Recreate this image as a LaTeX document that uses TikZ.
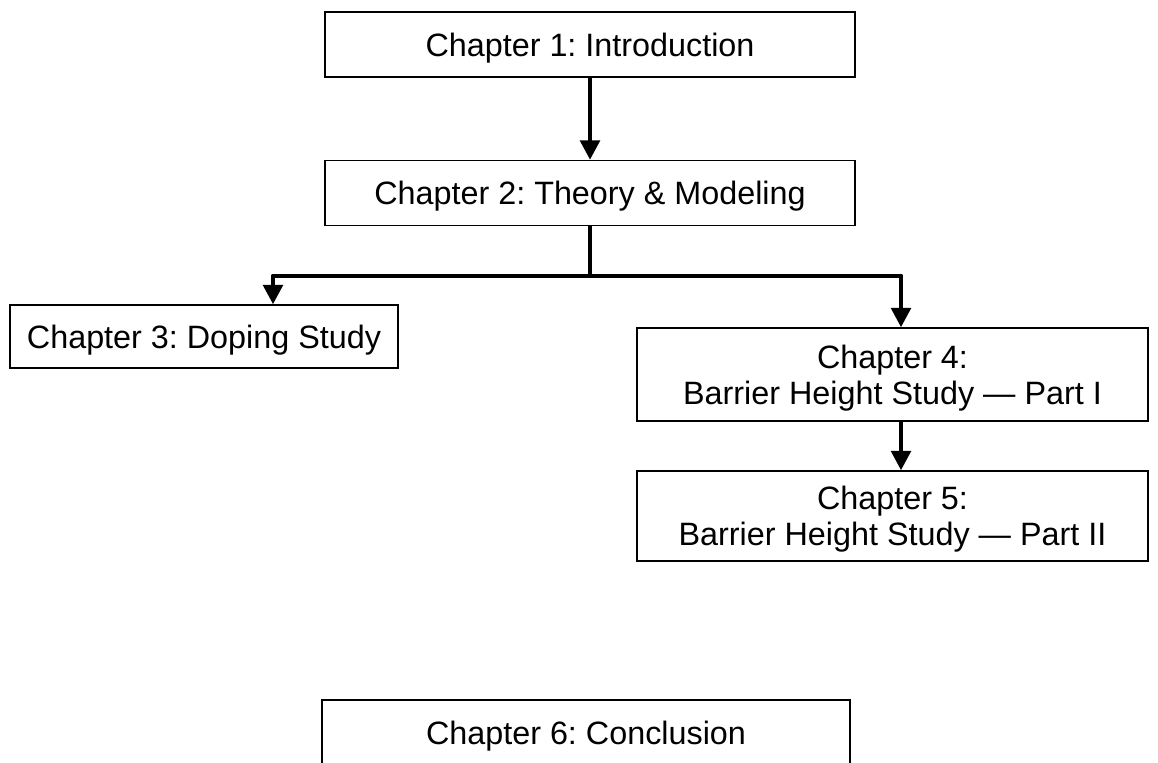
\documentclass[tikz,border=0pt]{standalone}
\usepackage{fontspec}
\setmainfont{Liberation Sans}
\frenchspacing
\usetikzlibrary{arrows.meta, positioning}
\tikzstyle{chapter} = [rectangle, minimum width=10.6cm, minimum height=1.3cm, text centered, align=center, text depth=0pt, draw=black, line width=0.8pt, font=\fontsize{18.4}{20.5}\selectfont]
\tikzstyle{arrow} = [line width=2.4pt, -{Triangle[width=11pt,length=11pt]}]
\tikzstyle{branch} = [line width=2.8pt]

\begin{document}
\begin{tikzpicture}
        \useasboundingbox (0,0) rectangle (23.16,-15.24);
        \node (intro) [chapter] at (11.8,-0.89) {Chapter 1: Introduction};
        \node (theory) [chapter] at (11.8,-3.86) {Chapter 2: Theory \& Modeling};
        \node (doping) [chapter, minimum width=7.76cm, minimum height=1.26cm] at (4.08,-6.73) {Chapter 3: Doping Study};
        \node (barrier-one) [chapter, minimum width=10.22cm, minimum height=1.86cm] at (17.85,-7.49) {Chapter 4:\\Barrier Height Study — Part I};
        \node (barrier-two) [chapter, minimum width=10.22cm, minimum height=1.8cm] at (17.85,-10.32) {Chapter 5:\\Barrier Height Study — Part II};
        \node (conclusion) [chapter, minimum width=10.56cm, minimum height=1.32cm] at (11.72,-14.66) {Chapter 6: Conclusion};

        \coordinate (split) at (11.8,-5.52);
        \coordinate (split-left) at (5.46,-5.52);
        \coordinate (split-right) at (18.02,-5.52);

        \draw [arrow] (intro) -- (theory);
        \draw [line width=2.4pt] (theory) -- (split);
        \draw [branch, line join=round] (split-left |- doping.north) ++(0,0.3) -- (split-left) -- (split-right) -- ++(0,-0.3);
        \draw [arrow] (split-left) -- (split-left |- doping.north);
        \draw [arrow] (split-right) -- (split-right |- barrier-one.north);
        \draw [arrow] (split-right |- barrier-one.south) -- (split-right |- barrier-two.north);
    \end{tikzpicture}
\end{document}
